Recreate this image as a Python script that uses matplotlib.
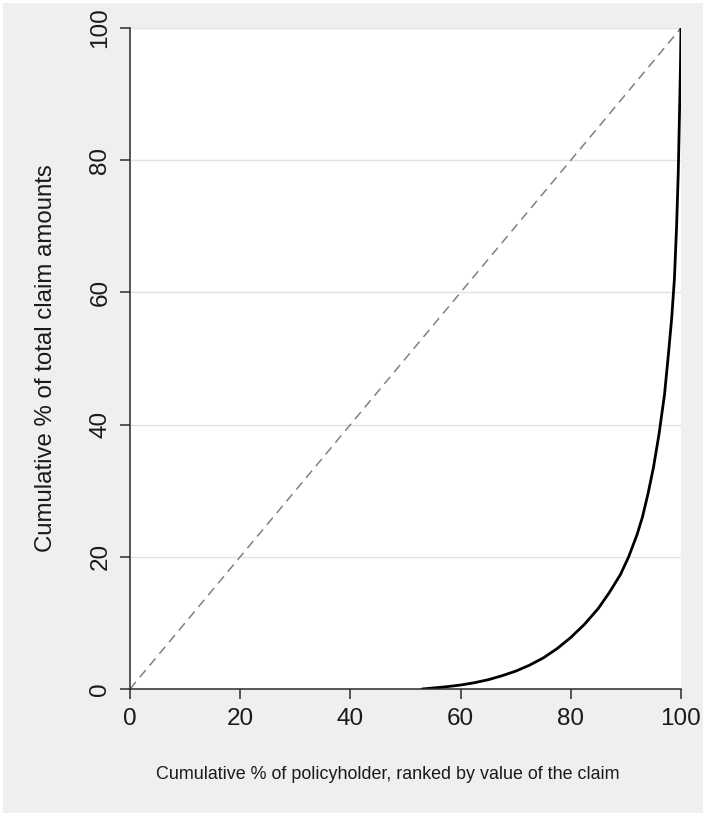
import matplotlib
matplotlib.use("Agg")
import matplotlib.pyplot as plt
from matplotlib.patches import Rectangle

plt.rcParams['font.family'] = ['Liberation Sans', 'DejaVu Sans']

# Lorenz curve data (cumulative % of policyholders vs cumulative % of claims)
pct_policyholders = [53, 55, 57.5, 60, 62.5, 65, 67.5, 70, 72.5, 75, 77.5, 80, 82.5,
                     85, 87, 89, 90.5, 92, 93, 94, 95, 96, 97, 97.7, 98.3, 98.8,
                     99.2, 99.5, 99.75, 99.9, 100]
pct_claims = [0, 0.15, 0.35, 0.6, 0.95, 1.4, 2.0, 2.7, 3.6, 4.7, 6.1, 7.8, 9.8,
              12.2, 14.6, 17.3, 20.0, 23.3, 26.0, 29.5, 33.5, 38.5, 44.5, 50.5, 56.0, 62.0,
              70.0, 78.0, 88.0, 94.0, 100]
equality = [0, 100]
ticks = [0, 20, 40, 60, 80, 100]

W, H = 709, 816
fig = plt.figure(figsize=(W / 100, H / 100), dpi=100, facecolor='white')
fig.patches.append(Rectangle((3 / W, 3 / H), 700 / W, 810 / H, transform=fig.transFigure,
                             facecolor='#efefef', edgecolor='none', zorder=-10))

ax = fig.add_axes([130 / W, (H - 689) / H, 551 / W, 661 / H])
ax.set_facecolor('white')
ax.set_xlim(0, 100)
ax.set_ylim(0, 100)

for y in ticks[1:]:
    ax.axhline(y, color='#e2e2e2', lw=1.0, zorder=0)

ax.plot(equality, equality, color='#808080', lw=1.1, ls=(0, (6, 4)), zorder=2)
ax.plot(pct_policyholders, pct_claims, color='black', lw=2.0, zorder=3,
        solid_capstyle='round', solid_joinstyle='round')

for s in ['top', 'right']:
    ax.spines[s].set_visible(False)
for s in ['left', 'bottom']:
    ax.spines[s].set_color('#2a2a2a')
    ax.spines[s].set_linewidth(1.1)
    ax.spines[s].set_zorder(4)

ax.set_xticks(ticks)
ax.set_yticks(ticks)
ax.tick_params(axis='both', direction='out', length=7.5, width=1.1, color='#2a2a2a',
               labelsize=17.5, labelcolor='#1a1a1a')
ax.tick_params(axis='x', pad=6)
ax.tick_params(axis='y', pad=6, labelrotation=90)
for lab in ax.get_yticklabels():
    lab.set_va('center')

ax.set_xlabel('Cumulative % of policyholder, ranked by value of the claim',
              fontsize=12.9, color='#1a1a1a')
ax.xaxis.set_label_coords(0.468, -0.117)
ax.set_ylabel('Cumulative % of total claim amounts', fontsize=17.3, color='#1a1a1a')
ax.yaxis.set_label_coords(-0.133, 0.5)

fig.savefig('out.png', dpi=100, facecolor='white')
